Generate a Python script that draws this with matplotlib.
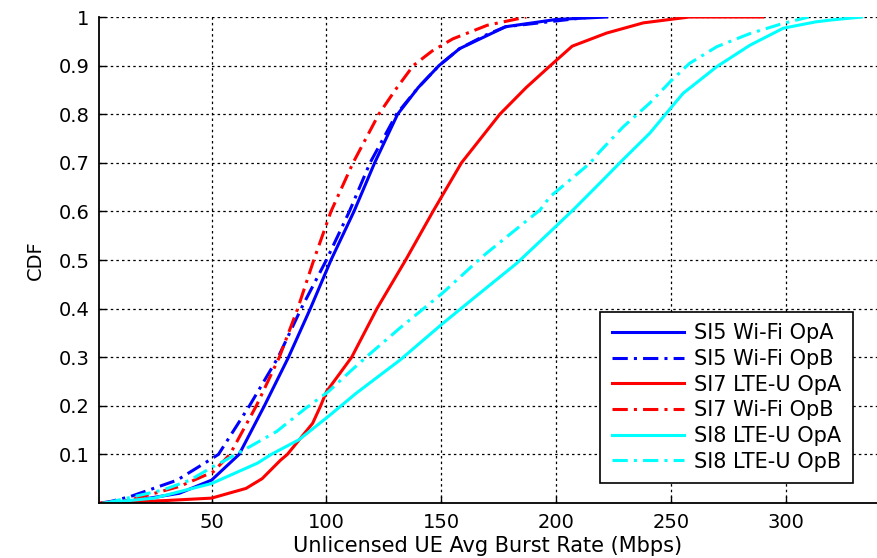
import matplotlib
matplotlib.use("Agg")
import matplotlib.pyplot as plt

plt.rcParams['font.family'] = ['DejaVu Sans']

# values (x = Mbps, y = CDF)
si5_opa_x = [3, 14, 36, 50, 62, 73, 83.5, 93, 102, 112, 121, 131, 140, 149, 158, 170, 178, 200, 222]
si5_opa_y = [0, 0.003, 0.02, 0.047, 0.1, 0.2, 0.3, 0.4, 0.5, 0.6, 0.7, 0.8, 0.855, 0.9, 0.935, 0.962, 0.98, 0.995, 1]

si5_opb_x = [2, 6, 14.5, 35, 48, 53, 66.5, 79, 89, 100, 110, 119, 130.5, 140, 149, 158, 169, 178, 215]
si5_opb_y = [0, 0.003, 0.013, 0.047, 0.085, 0.1, 0.2, 0.3, 0.4, 0.5, 0.6, 0.7, 0.8, 0.855, 0.9, 0.935, 0.962, 0.98, 1]

si7_opa_x = [1, 30, 50, 65, 72, 80, 83, 94, 97.5, 100, 111, 122, 134.5, 146.4, 158.8, 175.5, 187, 197.5,
             207, 222, 238, 258, 290]
si7_opa_y = [0, 0.005, 0.01, 0.03, 0.05, 0.088, 0.1, 0.164, 0.2, 0.229, 0.3, 0.4, 0.5, 0.6, 0.7, 0.8, 0.855, 0.9,
             0.94, 0.967, 0.988, 1, 1]

si7_opb_x = [3, 14.5, 36, 50.7, 58, 69.5, 79.5, 87.5, 94.5, 102, 111.6, 122.8, 130, 137.8, 146, 155, 170, 187]
si7_opb_y = [0, 0.006, 0.034, 0.064, 0.1, 0.2, 0.3, 0.4, 0.5, 0.6, 0.7, 0.8, 0.85, 0.9, 0.93, 0.955, 0.983, 1]

si8_opa_x = [3, 25, 50, 70, 76, 88, 100.8, 113, 132, 150.8, 164, 182.8, 197.4, 207.4, 219, 229, 240.8,
             250.3, 255.3, 270, 284.4, 298.9, 313, 320, 333]
si8_opa_y = [0, 0.01, 0.04, 0.082, 0.1, 0.13, 0.178, 0.226, 0.294, 0.37, 0.421, 0.493, 0.558, 0.603,
             0.658, 0.706, 0.761, 0.815, 0.843, 0.898, 0.942, 0.977, 0.99, 0.994, 1]

si8_opb_x = [4, 29, 40.6, 50.7, 56, 66.7, 78.3, 91, 100.8, 110.2, 117.5, 132, 150.8, 164, 169.7, 193,
             197.3, 214.7, 219, 229.2, 240.8, 250.3, 258.2, 270, 284.4, 298.9, 310]
si8_opb_y = [0, 0.027, 0.047, 0.075, 0.088, 0.116, 0.147, 0.195, 0.229, 0.27, 0.301, 0.36, 0.433, 0.49,
             0.514, 0.603, 0.63, 0.699, 0.723, 0.774, 0.823, 0.87, 0.905, 0.939, 0.966, 0.987, 1]

labels = ["SI5 Wi-Fi OpA", "SI5 Wi-Fi OpB", "SI7 LTE-U OpA",
          "SI7 Wi-Fi OpB", "SI8 LTE-U OpA", "SI8 LTE-U OpB"]
x_ticks = [50, 100, 150, 200, 250, 300]
y_ticks = [0.1, 0.2, 0.3, 0.4, 0.5, 0.6, 0.7, 0.8, 0.9, 1]

dashdot = (0, (5, 2, 1, 2))
series = [
    (si5_opa_x, si5_opa_y, '#0000ff', '-'),
    (si5_opb_x, si5_opb_y, '#0000ff', dashdot),
    (si7_opa_x, si7_opa_y, '#ff0000', '-'),
    (si7_opb_x, si7_opb_y, '#ff0000', dashdot),
    (si8_opa_x, si8_opa_y, '#00ffff', '-'),
    (si8_opb_x, si8_opb_y, '#00ffff', dashdot),
]

fig = plt.figure(figsize=(8.77, 5.58), dpi=100)
ax = fig.add_axes([0.1129, 0.0986, 0.8871, 0.8709])

for (xs, ys, color, ls), label in zip(series, labels):
    ax.plot(xs, ys, color=color, linestyle=ls, linewidth=2.2, label=label)

ax.set_xlim(1, 339.7)
ax.set_ylim(0, 1)
ax.set_xticks(x_ticks)
ax.set_yticks(y_ticks)
ax.set_yticklabels(['0.1', '0.2', '0.3', '0.4', '0.5', '0.6', '0.7', '0.8', '0.9', '1'])
ax.grid(True, color='black', linestyle=(0, (2, 2.5)), linewidth=0.9)
ax.tick_params(direction='in', length=5, width=1, labelsize=14, pad=7)
ax.spines['top'].set_visible(False)
ax.spines['right'].set_visible(False)
ax.spines['left'].set_linewidth(1.3)
ax.spines['bottom'].set_linewidth(1.3)

ax.set_xlabel("Unlicensed UE Avg Burst Rate (Mbps)", fontsize=15, labelpad=3)
ax.set_ylabel("CDF", fontsize=14, labelpad=10)

leg = ax.legend(loc='lower right', bbox_to_anchor=(0.969, 0.041), borderaxespad=0,
                fontsize=15, handlelength=3.45, handletextpad=0.5, labelspacing=0.27,
                borderpad=0.55, fancybox=False, framealpha=1, edgecolor='black')
leg.get_frame().set_linewidth(1.2)

fig.savefig("out.png", dpi=100)
